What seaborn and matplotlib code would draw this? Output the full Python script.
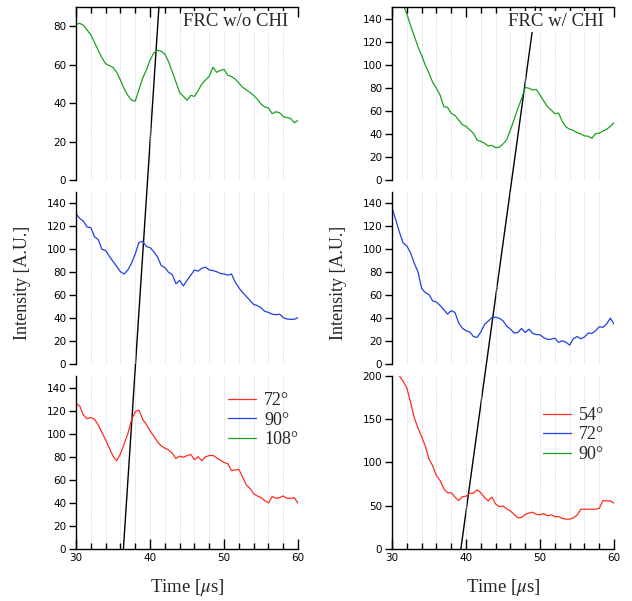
import numpy as np
import matplotlib
matplotlib.use("Agg")
import matplotlib.pyplot as plt
import seaborn as sns
from matplotlib.ticker import MultipleLocator
from matplotlib.patches import ConnectionPatch

# --- Données (pas de 0.5 µs) ---
time_us = np.arange(30, 60.01, 0.5)

# FRC sans CHI
wo_108 = [81, 81.5, 80.5, 78, 75.5, 71.5, 67.5, 63.5, 60.5, 59.5, 58.5, 56, 52, 47.5, 44, 41.5,
          41, 47, 53, 57.2, 62.4, 66, 67.5, 67, 65.5, 61.5, 56.3, 51, 45.5, 43.5, 41.5, 44,
          43.5, 46.5, 50, 52, 54, 58.6, 56, 57, 57.5, 54.5, 53.8, 52.5, 50.5, 48.2, 47, 45.5,
          44, 42, 39.5, 38, 37.5, 34.5, 35.5, 35, 33, 32.5, 32, 29.8, 31]
wo_90 = [131, 127, 124.5, 119.5, 119, 111, 108.5, 100, 99, 94, 89.5, 85, 80.5, 78.5, 82, 88,
         96, 106, 107, 102.5, 101.5, 98, 93.5, 86, 84, 80, 78, 70, 73, 68, 73, 77.5,
         82, 81, 83.5, 84.5, 82, 81.5, 80.5, 79, 78.5, 77.5, 78.5, 71.5, 66.5, 62.5, 59, 55.5,
         52, 51, 49, 46, 45, 43.5, 43, 43.5, 40.5, 39.2, 39, 39, 40.5]
wo_72 = [126, 124, 116, 113, 114, 112.5, 107.5, 101, 94.5, 87.5, 80.5, 76.5, 82.5, 91, 100, 112,
         119, 120.5, 112.5, 108, 102.5, 98, 93, 89.5, 87.5, 86, 83, 78.5, 80.5, 79.5, 81, 82,
         77.5, 80, 76.5, 80, 81, 81.2, 79, 77, 75, 74, 68, 68.5, 69, 62.7, 55.5, 52.6,
         48, 46, 44.5, 42, 40, 45.5, 44, 44.5, 46, 43.9, 44, 44.5, 39.6]

# FRC avec CHI
w_90 = [172, 165, 158, 152, 144, 134, 125, 115.6, 108, 99.5, 92.5, 84.5, 79.5, 73.5, 63.5, 63,
        57.8, 56, 52, 48, 46.5, 43.5, 40.5, 34.5, 33.5, 31.8, 29.5, 30, 28, 28.5, 31.2, 35,
        43.5, 52.5, 62, 70.5, 80.3, 79.5, 78, 78.5, 73.5, 68.5, 63.6, 60.7, 57.5, 58, 51, 46,
        44, 43, 41, 40, 38.2, 38, 36, 40.2, 40.5, 42.5, 44, 46.5, 49.7]
w_72 = [136, 126, 115, 105.5, 103, 97, 88, 80.5, 66, 62.3, 60.5, 55, 54, 51, 47.5, 43.5,
        46.5, 45, 36, 31.3, 29, 28, 24, 23.2, 28, 34.5, 37.5, 40.5, 40.8, 39.9, 37.7, 33,
        30.5, 27, 27.5, 31, 27.5, 30.4, 26.8, 25.7, 25.5, 23, 21.5, 21.7, 22.5, 18.8, 20.3, 19,
        16.5, 22, 24, 22, 23.5, 27, 26.7, 29, 32.5, 32, 35, 40, 34.8]
w_54 = [215, 206, 200, 194, 186, 170, 152, 140, 130, 119, 104, 96, 85, 79, 69.7, 65,
        65, 60, 56, 60.5, 61, 64.4, 64.4, 68.5, 65, 59.5, 55.6, 60, 52, 49, 49.8, 46.5,
        44, 40, 36, 36.5, 40, 41.5, 42.5, 40, 39.5, 41, 38.3, 39.5, 37.5, 37.5, 35.5, 34.5,
        34.5, 36, 39, 46, 46, 46, 46, 46, 47, 56, 55.6, 55.6, 52.9]

# instants de début / fin du trait noir (µs)
trait_wo = [36.4, 41.2]
trait_w = [39.3, 49.4]

ROUGE, BLEU, VERT = "#ff2d1f", "#2040e0", "#1ca21c"

sns.set_theme(style="white")
plt.rcParams["font.family"] = ["DejaVu Sans"]
plt.rcParams["mathtext.fontset"] = "stix"
SERIF = ["Liberation Serif", "DejaVu Serif"]

fig = plt.figure(figsize=(6.32, 6.01), dpi=100)

cols = [0.1203, 0.6203]
rows = [(0.7005, 0.2879), (0.3943, 0.2862), (0.0865, 0.2879)]
W = 0.3513


def style_axes(ax, pos, ymax, ystep):
    ax.set_xlim(30, 60)
    ax.set_ylim(0, ymax)
    ax.patch.set_alpha(0)
    ax.xaxis.set_major_locator(MultipleLocator(10))
    ax.xaxis.set_minor_locator(MultipleLocator(2))
    ax.yaxis.set_major_locator(MultipleLocator(ystep))
    ax.grid(False)
    ax.grid(True, which="both", axis="x", color="#cfcff5", lw=0.6, ls=(0, (1, 1)))
    for s in ax.spines.values():
        s.set_visible(False)
        s.set_color("black")
        s.set_linewidth(1)
    ax.spines["left"].set_visible(True)
    ax.tick_params(axis="y", which="major", direction="out", length=5, width=1,
                   left=True, labelsize=7.5, colors="black", pad=2)
    ax.tick_params(axis="x", which="both", direction="in", width=1, bottom=False, top=False,
                   labelbottom=False, labelsize=7.5, colors="black", pad=3)
    ax.tick_params(axis="x", which="major", length=7)
    ax.tick_params(axis="x", which="minor", length=4)
    if pos == "top":
        ax.spines["top"].set_visible(True)
        ax.tick_params(axis="x", which="both", top=True)
    if pos == "bottom":
        ax.spines["bottom"].set_visible(True)
        ax.tick_params(axis="x", which="both", bottom=True, labelbottom=True)
    ax.set_xlabel("")
    ax.set_ylabel("")


panels = [
    ("FRC w/o CHI", cols[0], [(wo_108, VERT, 90, 20), (wo_90, BLEU, 150, 20), (wo_72, ROUGE, 150, 20)],
     ["72°", "90°", "108°"], (1.0, 0.905), trait_wo),
    ("FRC w/ CHI", cols[1], [(w_90, VERT, 150, 20), (w_72, BLEU, 150, 20), (w_54, ROUGE, 200, 50)],
     ["54°", "72°", "90°"], (0.955, 0.82), trait_w),
]

for titre, x0, series, labels, leg_pos, trait in panels:
    axes = []
    for (vals, color, ymax, ystep), (y0, h), pos in zip(series, rows, ["top", "mid", "bottom"]):
        ax = fig.add_axes([x0, y0, W, h])
        sns.lineplot(x=time_us, y=vals, ax=ax, color=color, lw=0.9)
        style_axes(ax, pos, ymax, ystep)
        axes.append(ax)

    axes[0].text(0.955, 0.915, titre, transform=axes[0].transAxes, ha="right", va="center",
                 fontsize=13.5, family=SERIF, zorder=5,
                 bbox=dict(facecolor="white", edgecolor="none", pad=1.5))

    # légende : rouge, bleu, vert (du bas vers le haut des panneaux)
    handles = [axes[2].get_lines()[0], axes[1].get_lines()[0], axes[0].get_lines()[0]]
    axes[2].legend(handles, labels, loc="upper right", bbox_to_anchor=leg_pos, frameon=False,
                   prop={"family": SERIF, "size": 13}, handlelength=1.55, handletextpad=0.45,
                   labelspacing=0.13, borderaxespad=0, borderpad=0)

    # trait noir reliant le panneau du bas à celui du haut
    con = ConnectionPatch(xyA=(trait[0], 0), coordsA=axes[2].transData,
                          xyB=(trait[1], axes[0].get_ylim()[1]), coordsB=axes[0].transData,
                          color="black", lw=1, zorder=-1)
    fig.add_artist(con)

    xc = x0 + W / 2
    fig.text(xc, 1 - 587 / 601, r"Time [$\mu$s]", ha="center", va="center",
             fontsize=13.5, family=SERIF)
    fig.text(x0 - 0.085, 1 - 283 / 601, "Intensity [A.U.]", rotation=90, ha="center",
             va="center", fontsize=13, family=SERIF)

fig.savefig("out.png", dpi=100, facecolor="white")
